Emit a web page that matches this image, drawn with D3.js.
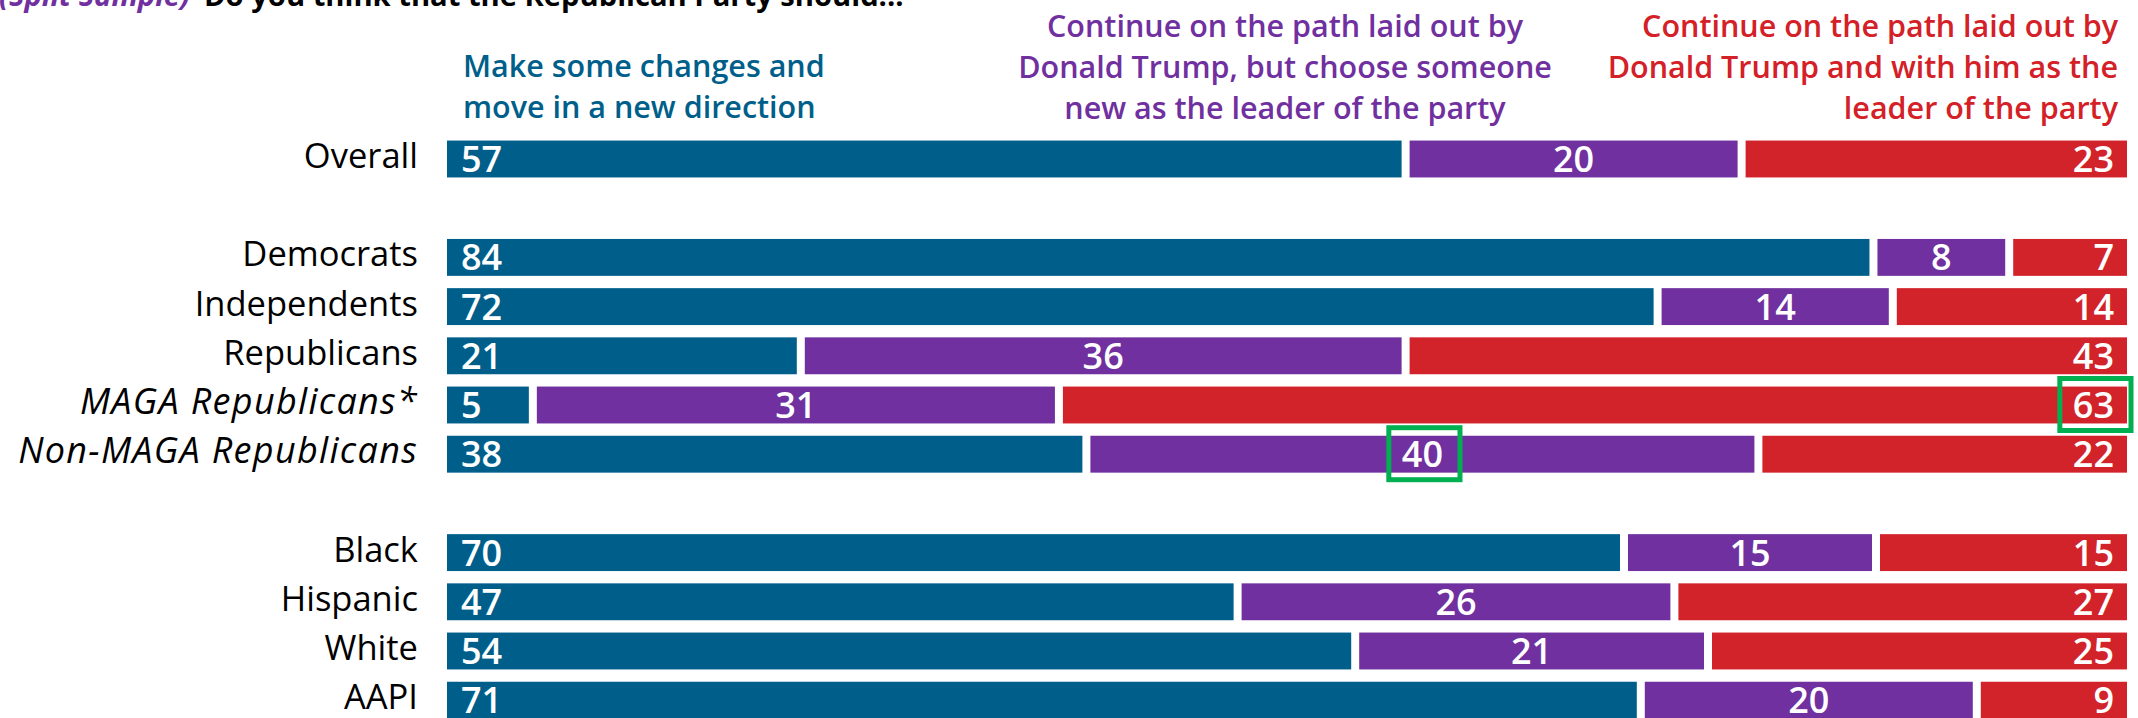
<!DOCTYPE html>
<html>
<head>
<meta charset="utf-8">
<script src="https://cdn.jsdelivr.net/npm/d3@7"></script>
<style>
  html, body { margin: 0; padding: 0; background: #fff; }
  svg { display: block; }
  text { font-family: "Open Sans", Lato, sans-serif; }
</style>
</head>
<body>
<svg id="chart" width="2138" height="718"></svg>
<script>
// ---- data ----
const rows = ["Overall", "", "Democrats", "Independents", "Republicans",
              "MAGA Republicans*", "Non-MAGA Republicans", " ",
              "Black", "Hispanic", "White", "AAPI"];
const italicRows = ["MAGA Republicans*", "Non-MAGA Republicans"];
const categories = ["Overall", "Democrats", "Independents", "Republicans",
                    "MAGA Republicans*", "Non-MAGA Republicans",
                    "Black", "Hispanic", "White", "AAPI"];
const newDirection = [57, 84, 72, 21, 5, 38, 70, 47, 54, 71];
const trumpPathNewLeader = [20, 8, 14, 36, 31, 40, 15, 26, 21, 20];
const trumpAsLeader = [23, 7, 14, 43, 63, 22, 15, 27, 25, 9];
const seriesNames = [
  ["Make some changes and", "move in a new direction"],
  ["Continue on the path laid out by", "Donald Trump, but choose someone", "new as the leader of the party"],
  ["Continue on the path laid out by", "Donald Trump and with him as the", "leader of the party"]
];
const highlights = [
  { category: "MAGA Republicans*", series: 2 },
  { category: "Non-MAGA Republicans", series: 1 }
];
const titleLead = "(Split Sample)";
const titleRest = "Do you think that the Republican Party should...";

// ---- styles ----
const colors = ["#005f8a", "#7030a0", "#d2232a"];
const textColors = ["#005f8a", "#7030a0", "#d42027"];

const svg = d3.select("#chart");
const x = d3.scaleLinear().domain([0, 1]).range([447, 2127]);
const y = d3.scaleBand().domain(rows).range([134.4, 724.8])
  .paddingInner(0.25).paddingOuter(0.125);

const table = categories.map((c, i) => {
  const vals = [newDirection[i], trumpPathNewLeader[i], trumpAsLeader[i]];
  const total = d3.sum(vals);
  let acc = 0;
  return {
    category: c,
    segs: vals.map((v, s) => {
      const seg = { category: c, s, v, a: acc / total, b: (acc + v) / total };
      acc += v;
      return seg;
    })
  };
});

// title (cut at the top of the picture)
const titleB = svg.append("text").attr("x", 204).attr("y", 5.5)
  .attr("font-weight", 700).attr("font-size", 30).attr("fill", "#000")
  .text(titleRest);
{
  const w = titleB.node().getComputedTextLength();
  titleB.attr("font-size", 30 * 700 / w);
}
svg.append("text").attr("x", 190).attr("y", 5.5).attr("text-anchor", "end")
  .attr("font-weight", 700).attr("font-style", "italic")
  .attr("font-size", titleB.attr("font-size")).attr("fill", "#7030a0")
  .text(titleLead);

// headers
const hdr = svg.append("g").attr("font-size", 30.5).attr("font-weight", 600);
hdr.append("text").attr("fill", textColors[0])
  .selectAll("tspan").data(seriesNames[0]).join("tspan")
  .attr("x", 463).attr("y", (d, i) => 77 + i * 41).text(d => d);
hdr.append("text").attr("fill", textColors[1]).attr("text-anchor", "middle")
  .selectAll("tspan").data(seriesNames[1]).join("tspan")
  .attr("x", 1285).attr("y", (d, i) => 37 + i * 41).text(d => d);
hdr.append("text").attr("fill", textColors[2]).attr("text-anchor", "end")
  .selectAll("tspan").data(seriesNames[2]).join("tspan")
  .attr("x", 2118).attr("y", (d, i) => 37 + i * 41).text(d => d);

// category labels
svg.append("g").selectAll("text").data(categories).join("text")
  .attr("x", 418)
  .attr("y", d => y(d) + y.bandwidth() / 2 + 9)
  .attr("text-anchor", "end")
  .attr("font-size", d => italicRows.includes(d) ? 36 : 34.5)
  .attr("letter-spacing", d => italicRows.includes(d) ? 1.3 : 0)
  .attr("font-style", d => italicRows.includes(d) ? "italic" : "normal")
  .attr("fill", "#000")
  .text(d => d);

// bars
const segs = table.flatMap(r => r.segs);
svg.append("g").selectAll("rect").data(segs).join("rect")
  .attr("x", d => x(d.a) + (d.s > 0 ? 5 : 0))
  .attr("width", d => x(d.b) - x(d.a) - (d.s > 0 ? 5 : 0) - (d.s < 2 ? 3 : 0))
  .attr("y", d => y(d.category))
  .attr("height", y.bandwidth())
  .attr("fill", d => colors[d.s]);

// values
const valueText = svg.append("g").selectAll("text").data(segs).join("text")
  .attr("x", d => d.s === 0 ? x(d.a) + 14 : d.s === 1 ? (x(d.a) + x(d.b)) / 2 + 1 : x(d.b) - 13)
  .attr("y", d => y(d.category) + y.bandwidth() / 2 + 13)
  .attr("text-anchor", d => ["start", "middle", "end"][d.s])
  .attr("font-size", 36)
  .attr("font-weight", 600)
  .attr("fill", "#fff")
  .text(d => d.v);

// highlight boxes
const boxes = highlights.map(h => {
  const node = valueText.filter(d => d.category === h.category && d.s === h.series).node();
  const bb = node.getBBox();
  return { cx: bb.x + bb.width / 2 + 2, cy: y(h.category) + y.bandwidth() / 2 - 0.5, w: bb.width + 30 };
});
svg.append("g").selectAll("rect").data(boxes).join("rect")
  .attr("x", d => d.cx - d.w / 2)
  .attr("y", d => d.cy - 26)
  .attr("width", d => d.w)
  .attr("height", 52)
  .attr("fill", "none")
  .attr("stroke", "#00b050")
  .attr("stroke-width", 5);
</script>
</body>
</html>
